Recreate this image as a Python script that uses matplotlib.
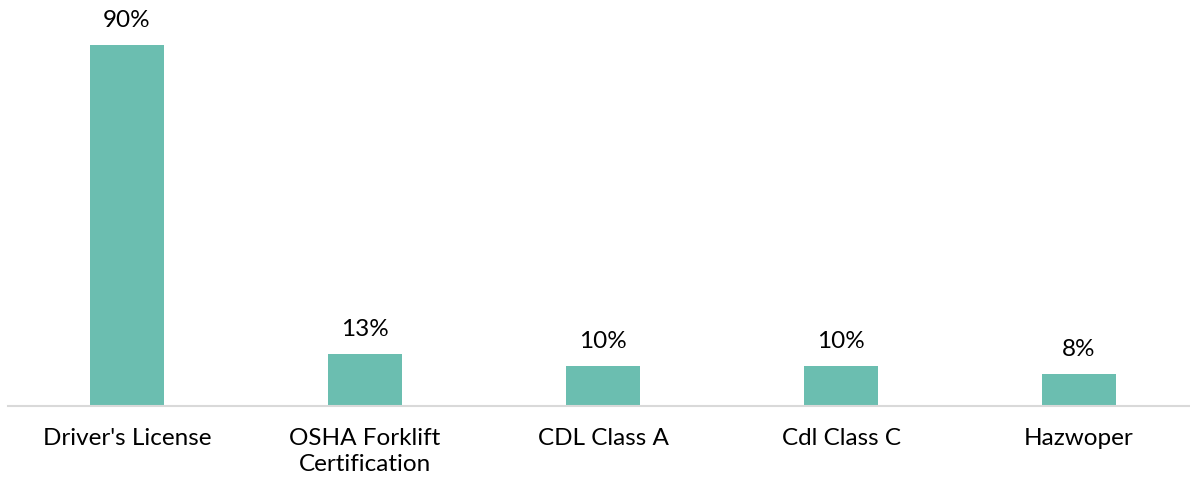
import matplotlib.pyplot as plt

categories = ["Driver's License", "OSHA Forklift\nCertification", "CDL Class A", "Cdl Class C", "Hazwoper"]
values = [90, 13, 10, 10, 8]
value_labels = ["90%", "13%", "10%", "10%", "8%"]

plt.rcParams['font.family'] = ['Lato', 'DejaVu Sans']

fig = plt.figure(figsize=(11.9, 4.82), dpi=100)
ax = fig.add_axes([8 / 1190, 76 / 482, 1190 / 1190, 401 / 482])

x = range(len(categories))
bars = ax.bar(x, values, width=0.311, color="#6BBEB0")

for b, lab in zip(bars, value_labels):
    ax.text(b.get_x() + b.get_width() / 2, b.get_height() + 3.4, lab,
            ha="center", va="bottom", fontsize=17.5, color="#000000")

ax.set_xlim(-0.5, len(categories) - 0.5)
ax.set_ylim(0, 100)
ax.set_xticks(list(x))
ax.set_xticklabels(categories, fontsize=17.5, color="#000000", linespacing=1.3)
ax.tick_params(axis="x", length=0, pad=16)
ax.set_yticks([])
for s in ["top", "right", "left"]:
    ax.spines[s].set_visible(False)
ax.spines["bottom"].set_color("#D9D9D9")
ax.spines["bottom"].set_linewidth(1.5)

fig.savefig("out.png", dpi=100)
